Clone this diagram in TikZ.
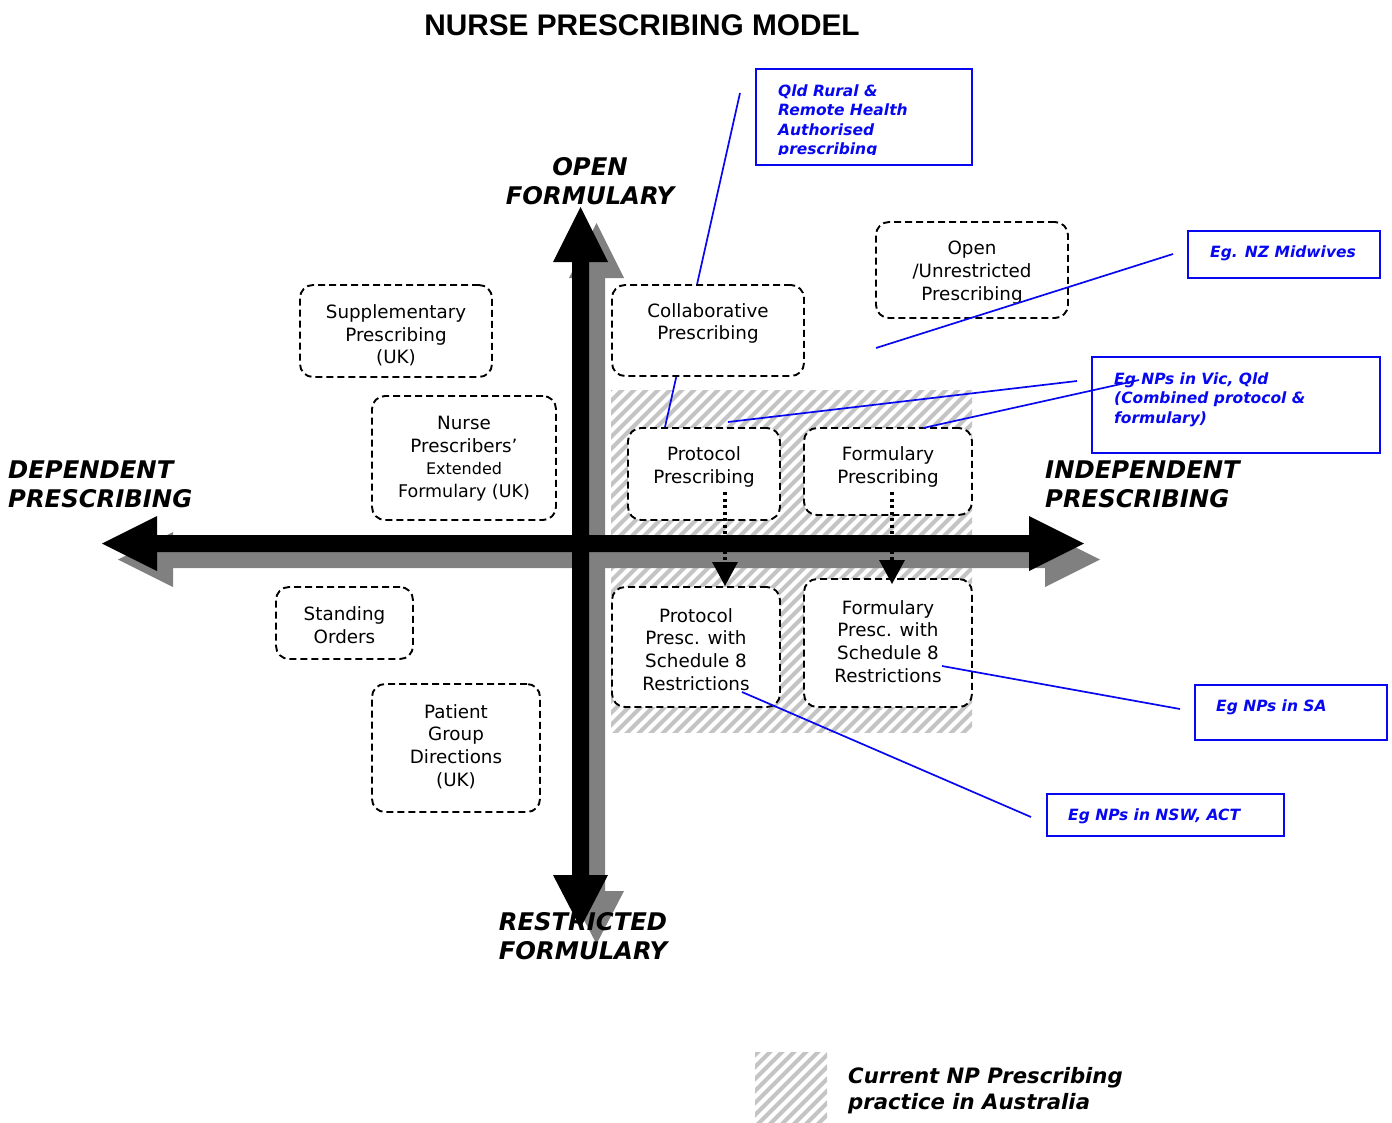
\documentclass[tikz,border=0pt]{standalone}
\usepackage{fontspec}
\setmainfont{DejaVu Sans}
\newfontfamily\titlefont{Liberation Sans}
\usetikzlibrary{arrows.meta,calc}

\definecolor{callout}{RGB}{8,8,240}
\definecolor{shadow}{RGB}{128,128,128}
\definecolor{hatch}{RGB}{196,196,196}

\newcommand\bodyfont{\fontsize{18.3}{22.7}\selectfont}
\newcommand\axisfont{\fontsize{24.3}{29}\selectfont\bfseries\itshape}
\newcommand\notefont{\fontsize{15.5}{19.5}\selectfont\bfseries\itshape}

% one axis cross: vertical and horizontal double-headed arrows
\newcommand\axiscross[1]{%
  \fill[#1] (572,262) -- (553,262) -- (580.5,207) -- (608,262) -- (589,262)
    -- (589,875) -- (608,875) -- (580.5,928) -- (553,875) -- (572,875) -- cycle;
  \fill[#1] (157,535) -- (157,516) -- (102,543.5) -- (157,571) -- (157,552)
    -- (1029,552) -- (1029,571) -- (1084,543.5) -- (1029,516) -- (1029,535) -- cycle;
}

\tikzset{
  modelbox/.style={draw, line width=1.9pt, dash pattern=on 7pt off 4pt,
    rounded corners=13pt, fill=white, inner sep=0pt},
  boxtext/.style={align=center, inner sep=0pt, font=\bodyfont},
  axislabel/.style={inner sep=0pt, font=\axisfont},
  notebox/.style={draw=callout, line width=1.9pt, inner sep=0pt},
  notetext/.style={anchor=base west, align=left, inner sep=0pt,
    text=callout, font=\notefont},
  notelines/.style={notetext, anchor=north west},
  leader/.style={callout, line width=1.7pt},
  dotarrow/.style={line width=3.2pt, dash pattern=on 3pt off 3.5pt,
    -{Triangle[width=25pt,length=24pt]}},
  hatchline/.style={hatch, line width=4.2pt},
}

\begin{document}
\begin{tikzpicture}[x=1pt, y=-1pt]
\useasboundingbox (0,0) rectangle (1392,1122);
\fill[white] (0,0) rectangle (1392,1122);

% title
\node[font=\titlefont\fontsize{29.8}{34}\selectfont\bfseries, inner sep=0pt]
  (title) at (642,25) {NURSE PRESCRIBING MODEL};

% hatched region: current practice in Australia
\begin{scope}
  \clip (611,390) rectangle (972,732);
  \foreach \a in {260,272,...,980}
    \draw[hatchline] (\a,740) -- ++(360,-360);
\end{scope}

% shadow of the axes
\axiscross{shadow, shift={(16,16)}}

% axis labels
\node[axislabel, align=center] (open) at (590,181.5) {OPEN\\FORMULARY};
\node[axislabel, align=left, anchor=west] (dep) at (8,484.5) {DEPENDENT\\PRESCRIBING};
\node[axislabel, align=left, anchor=west] (indep) at (1045,484.5) {INDEPENDENT\\PRESCRIBING};
\node[axislabel, align=center] (restr) at (583,936.5) {RESTRICTED\\FORMULARY};

% axes
\axiscross{black}

% leader from the Qld note, passing behind the collaborative box
\coordinate (qldend) at (740,93);
\coordinate (ppmark) at (654,476);
\draw[leader] (qldend) -- (ppmark);

% model boxes
\node[modelbox, minimum width=192pt, minimum height=92pt] (supp) at (396,331) {};
\node[boxtext] (supp-t) at (396,335.5) {Supplementary\\Prescribing\\(UK)};

\node[modelbox, minimum width=184pt, minimum height=124pt] (npef) at (464,458) {};
\node[boxtext] (npef-t) at (464,458.5) {Nurse\\Prescribers’\\{\fontsize{16}{22.7}\selectfont Extended}\\{\fontsize{17.5}{22.7}\selectfont Formulary (UK)}};

\node[modelbox, minimum width=192pt, minimum height=91pt] (collab) at (708,330.5) {};
\node[boxtext] (collab-t) at (708,323.5) {Collaborative\\Prescribing};

\node[modelbox, minimum width=192pt, minimum height=96pt] (open-b) at (972,270) {};
\node[boxtext] (open-t) at (972,272.5) {Open\\/Unrestricted\\Prescribing};

\node[modelbox, minimum width=152pt, minimum height=92pt] (pp) at (704,474) {};
\node[boxtext] (pp-t) at (704,467) {Protocol\\Prescribing};

\node[modelbox, minimum width=168pt, minimum height=87pt] (fp) at (888,471.5) {};
\node[boxtext] (fp-t) at (888,467) {Formulary\\Prescribing};

\node[modelbox, minimum width=168pt, minimum height=120pt] (ps8) at (696,647) {};
\node[boxtext] (ps8-t) at (696,649.5) {Protocol\\Presc. with\\Schedule 8\\Restrictions};

\node[modelbox, minimum width=168pt, minimum height=128pt] (fs8) at (888,643) {};
\node[boxtext] (fs8-t) at (888,641.5) {Formulary\\Presc. with\\Schedule 8\\Restrictions};

\node[modelbox, minimum width=137pt, minimum height=72pt] (stand) at (344.5,623) {};
\node[boxtext] (stand-t) at (344.5,625) {Standing\\Orders};

\node[modelbox, minimum width=168pt, minimum height=128pt] (pgd) at (456,748) {};
\node[boxtext] (pgd-t) at (456,746.5) {Patient\\Group\\Directions\\(UK)};

% progression towards Schedule 8 restrictions
\coordinate (pp-d) at (725,492);
\coordinate (fp-d) at (892,492);
\draw[dotarrow] (pp-d) -- (pp-d |- ps8.north);
\draw[dotarrow] (fp-d) -- ($(fp-d |- fs8.north)+(0,6)$);

% notes and their leaders
\node[notebox, minimum width=216pt, minimum height=96pt] (qld) at (864,117) {};
\begin{scope}
  \clip (757,70) rectangle (971,154);
  \node[notelines] (qld-t) at (778,84.2) {Qld Rural \&\\Remote Health\\Authorised\\prescribing};
\end{scope}

\node[notebox, minimum width=192pt, minimum height=47pt] (nz) at (1284,254.5) {};
\node[notetext] (nz-t) at (1210,257) {Eg. NZ Midwives};
\coordinate (nz-end) at (1173,254);
\coordinate (nz-free) at (876,348);
\draw[leader] (nz-end) -- (nz-free);

\node[notebox, minimum width=288pt, minimum height=96pt] (vic) at (1236,405) {};
\node[notelines] (vic-t) at (1114,372.2) {Eg NPs in Vic, Qld\\(Combined protocol \&\\formulary)};
\coordinate (vic-a) at (1077,381);
\coordinate (vic-b) at (1139,380);
\coordinate (pp-top) at (728,422);
\coordinate (fp-top) at (923,428);
\draw[leader] (vic-a) -- (pp-top);
\draw[leader] (vic-b) -- (fp-top);

\node[notebox, minimum width=192pt, minimum height=55pt] (sa) at (1291,712.5) {};
\node[notetext] (sa-t) at (1216,711) {Eg NPs in SA};
\coordinate (sa-end) at (1180,709);
\coordinate (fs8-mark) at (942,666);
\draw[leader] (sa-end) -- (fs8-mark);

\node[notebox, minimum width=237pt, minimum height=42pt] (nsw) at (1165.5,815) {};
\node[notetext] (nsw-t) at (1068,820) {Eg NPs in NSW, ACT};
\coordinate (nsw-end) at (1031,817);
\coordinate (ps8-mark) at (742,692);
\draw[leader] (nsw-end) -- (ps8-mark);

% legend
\begin{scope}
  \clip (755,1052) rectangle (827,1122);
  \foreach \a in {680,692,...,840}
    \draw[hatchline] (\a,1130) -- ++(90,-90);
\end{scope}
\node[inner sep=0pt, anchor=west, align=left,
  font=\fontsize{21.2}{26}\selectfont\bfseries\itshape] (legend)
  at (848,1091) {Current NP Prescribing\\practice in Australia};
\end{tikzpicture}
\end{document}
